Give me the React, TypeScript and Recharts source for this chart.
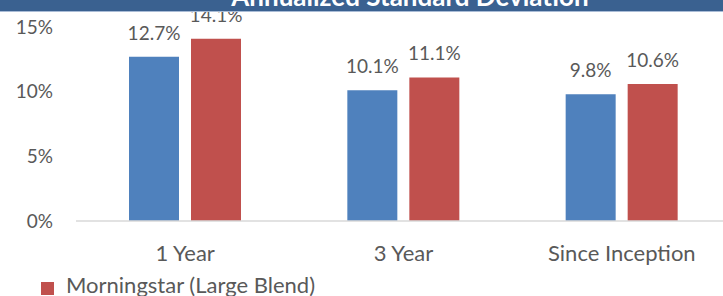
import { Bar, BarChart, LabelList, XAxis, YAxis } from "recharts";

const categories = ["1 Year", "3 Year", "Since Inception"];
const fundValues = [12.7, 10.1, 9.8];
const morningstarValues = [14.1, 11.1, 10.6];
const yTicks = [0, 5, 10, 15];
const seriesNames = ["Fund", "Morningstar (Large Blend)"];
const title = "Annualized Standard Deviation";

const data = categories.map((period, i) => ({
  period,
  fund: fundValues[i],
  morningstar: morningstarValues[i],
}));

const FONT = "Lato, 'Open Sans', sans-serif";
const TEXT = "#595959";
const BLUE = "#4F81BD";
const RED = "#C0504D";

const pct = (v: number | string) => `${Number(v).toFixed(1)}%`;
const labelStyle = { fontSize: 19, fill: TEXT, fontFamily: FONT };

export default function App() {
  return (
    <div
      style={{
        position: "absolute",
        left: 0,
        top: 0,
        width: 723,
        height: 296,
        overflow: "hidden",
        background: "#fff",
        fontFamily: FONT,
      }}
    >
      <BarChart
        width={731}
        height={296}
        data={data}
        margin={{ top: 27, right: 0, bottom: 0, left: 0 }}
        barSize={50}
        barGap={12}
      >
        <XAxis
          dataKey="period"
          height={75}
          axisLine={{ stroke: "#D9D9D9", strokeWidth: 1.5 }}
          tickLine={false}
          tickSize={0}
          tickMargin={24}
          tick={{ fontSize: 22, fill: TEXT, fontFamily: FONT }}
        />
        <YAxis
          width={76}
          domain={[0, 15]}
          ticks={yTicks}
          axisLine={false}
          tickLine={false}
          tickSize={0}
          tickMargin={23}
          tickFormatter={(v) => `${v}%`}
          tick={{ fontSize: 19, fill: TEXT, fontFamily: FONT }}
        />
        <Bar dataKey="fund" name={seriesNames[0]} fill={BLUE} isAnimationActive={false}>
          <LabelList dataKey="fund" position="top" offset={17} formatter={pct} style={labelStyle} />
        </Bar>
        <Bar dataKey="morningstar" name={seriesNames[1]} fill={RED} isAnimationActive={false}>
          <LabelList dataKey="morningstar" position="top" offset={17} formatter={pct} style={labelStyle} />
        </Bar>
      </BarChart>

      {/* title strip, mostly cut off above the frame */}
      <div
        style={{
          position: "absolute",
          left: 0,
          top: 0,
          width: 723,
          height: 11,
          background: "#3A6190",
          borderBottom: "1px solid #A9BCD6",
          overflow: "hidden",
        }}
      >
        <div
          style={{
            position: "absolute",
            left: 82,
            width: 656,
            top: -17,
            textAlign: "center",
            color: "#fff",
            fontSize: 26,
            lineHeight: "26px",
            fontWeight: 700,
            whiteSpace: "nowrap",
          }}
        >
          {title}
        </div>
      </div>

      {/* legend, only the second entry is in frame */}
      <div
        style={{
          position: "absolute",
          left: 41,
          top: 274,
          display: "flex",
          alignItems: "flex-start",
          color: TEXT,
          fontSize: 22,
          lineHeight: "22px",
          whiteSpace: "nowrap",
        }}
      >
        <span
          style={{ width: 13, height: 13, background: RED, marginTop: 8, marginRight: 12, display: "inline-block" }}
        />
        {seriesNames[1]}
      </div>
    </div>
  );
}
